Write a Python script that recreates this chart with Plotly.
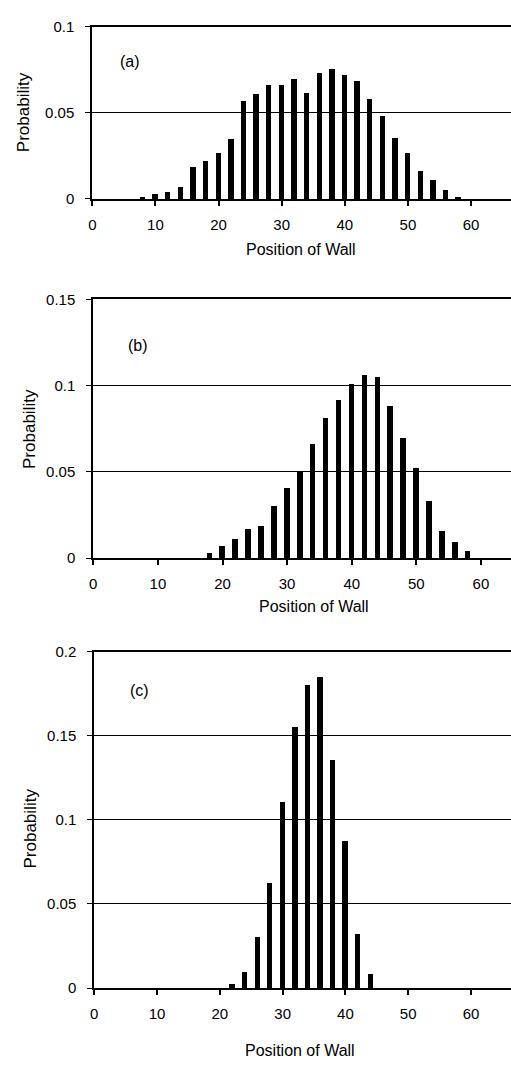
import plotly.graph_objects as go

# Data
pos_a = [8, 10, 12, 14, 16, 18, 20, 22, 24, 26, 28, 30, 32, 34, 36, 38, 40, 42, 44, 46, 48, 50, 52, 54, 56, 58]
prob_a = [0.0013, 0.0032, 0.0040, 0.0072, 0.0187, 0.0223, 0.0269, 0.0350, 0.0573, 0.0610, 0.0665, 0.0663,
          0.0699, 0.0615, 0.0735, 0.0756, 0.0720, 0.0688, 0.0581, 0.0486, 0.0354, 0.0270, 0.0166, 0.0110,
          0.0053, 0.0015]

pos_b = [18, 20, 22, 24, 26, 28, 30, 32, 34, 36, 38, 40, 42, 44, 46, 48, 50, 52, 54, 56, 58]
prob_b = [0.0030, 0.0067, 0.0107, 0.0169, 0.0183, 0.0299, 0.0407, 0.0500, 0.0659, 0.0810, 0.0914, 0.1005,
          0.1058, 0.1049, 0.0878, 0.0697, 0.0523, 0.0329, 0.0158, 0.0089, 0.0038]

pos_c = [22, 24, 26, 28, 30, 32, 34, 36, 38, 40, 42, 44]
prob_c = [0.0025, 0.0099, 0.0307, 0.0628, 0.1107, 0.1553, 0.1802, 0.1852, 0.1358, 0.0874, 0.0325, 0.0086]

panel_labels = ["(a)", "(b)", "(c)"]
x_title = "Position of Wall"
y_title = "Probability"
y_max = [0.1, 0.15, 0.2]
x_max = [66.33, 64.65, 66.37]

W, H = 511, 1065
FONT = "Liberation Sans, Arial, sans-serif"

def px(x):
    return x / W

def py(y):
    return 1 - y / H

# pixel geometry: (left, top, bottom)
geom = [(89, 18, 193), (90, 295, 558), (91, 653, 995)]

fig = go.Figure()
series = [(pos_a, prob_a), (pos_b, prob_b), (pos_c, prob_c)]
for i, (xs, ys) in enumerate(series):
    n = "" if i == 0 else str(i + 1)
    fig.add_trace(go.Bar(x=xs, y=ys, width=0.85, marker=dict(color="black", line=dict(width=0)),
                         xaxis="x" + n, yaxis="y" + n, showlegend=False))
    left, top, bottom = geom[i]
    fig.layout["xaxis" + n] = dict(
        domain=[px(left), 1.0], range=[0, x_max[i]], anchor="y" + n,
        tickmode="linear", tick0=0, dtick=10, ticks="outside", ticklen=5, tickwidth=1.5,
        tickcolor="black", showline=True, linecolor="black", linewidth=2, mirror=True,
        showgrid=False, zeroline=False, ticklabelstandoff=6,
        tickfont=dict(family=FONT, size=15, color="black"),
    )
    fig.layout["yaxis" + n] = dict(
        domain=[py(bottom), py(top)], range=[0, y_max[i]], anchor="x" + n,
        tickmode="linear", tick0=0, dtick=0.05, ticks="outside", ticklen=5, tickwidth=1,
        tickcolor="black", showline=True, linecolor="black", linewidth=2,
        showgrid=True, gridcolor="black", gridwidth=1, zeroline=False,
        ticklabelstandoff=8,
        tickfont=dict(family=FONT, size=15, color="black"),
    )

annotations = []
label_pos = [(127, 53), (135, 342), (137, 693)]
xt_pos = [(299, 244), (312, 607), (298, 1058)]
yt_pos = [(19, 105), (25, 427), (27, 833)]
for i in range(3):
    annotations.append(dict(text=panel_labels[i], x=px(label_pos[i][0]), y=py(label_pos[i][1]),
                            xref="paper", yref="paper", showarrow=False,
                            xanchor="center", yanchor="middle",
                            font=dict(family=FONT, size=16, color="black")))
    annotations.append(dict(text=x_title, x=px(xt_pos[i][0]), y=py(xt_pos[i][1]),
                            xref="paper", yref="paper", showarrow=False,
                            xanchor="center", yanchor="middle",
                            font=dict(family=FONT, size=16, color="black")))
    annotations.append(dict(text=y_title, x=px(yt_pos[i][0]), y=py(yt_pos[i][1]),
                            xref="paper", yref="paper", showarrow=False, textangle=-90,
                            xanchor="center", yanchor="middle",
                            font=dict(family=FONT, size=17, color="black")))

fig.update_layout(
    width=W, height=H, margin=dict(l=0, r=0, t=0, b=0),
    paper_bgcolor="white", plot_bgcolor="white",
    annotations=annotations, bargap=0,
)

fig.write_html("out.html")
